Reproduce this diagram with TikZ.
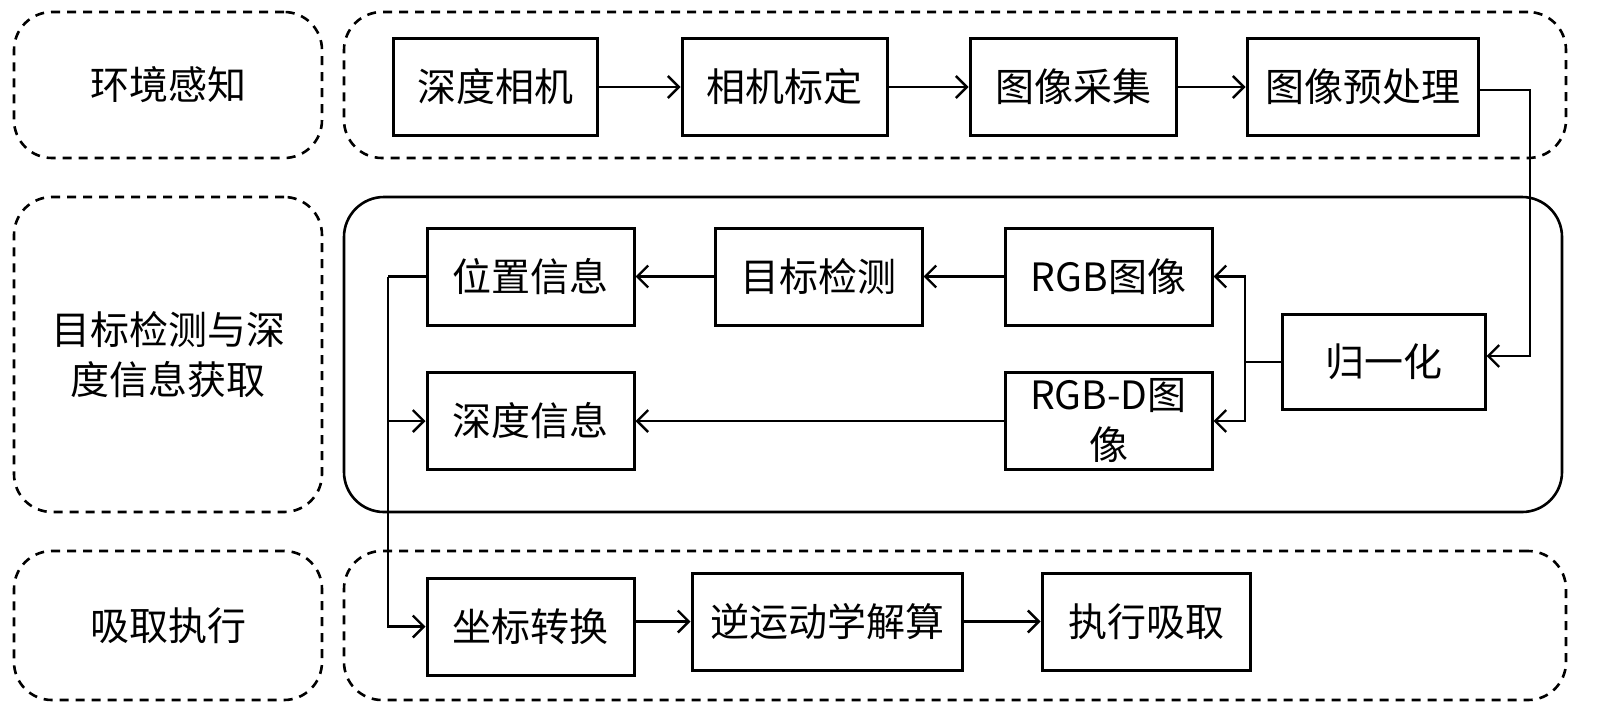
\documentclass[tikz,border=0pt]{standalone}
\usepackage{fontspec}
\newfontfamily\cjk{Noto Sans CJK SC}
\usetikzlibrary{arrows.meta}
\begin{document}
\begin{tikzpicture}[x=1pt,y=-1pt,
  every node/.style={font=\cjk\fontsize{39}{50}\selectfont, inner sep=0pt, align=center},
  procbox/.style={draw, line width=3pt, minimum height=97pt},
  groupbox/.style={draw, line width=2.6pt, dash pattern=on 9pt off 7pt, rounded corners=38pt},
  link/.style={line width=2.4pt, -{Straight Barb[length=11pt,width=22pt,line width=2.4pt]}},
  plain/.style={line width=2.4pt}
]
\useasboundingbox[fill=white] (0,0) rectangle (1600,724);

% group frames
\node[groupbox, minimum width=308pt, minimum height=146pt] (gl1) at (168,85) {环境感知};
\node[groupbox, minimum width=308pt, minimum height=315pt] (gl2) at (168,354.5) {目标检测与深\\度信息获取};
\node[groupbox, minimum width=308pt, minimum height=149pt] (gl3) at (168,625.5) {吸取执行};
\node[groupbox, minimum width=1222pt, minimum height=146pt] (gr1) at (955,85) {};
\node[draw, line width=2.6pt, rounded corners=40pt, minimum width=1218pt, minimum height=315pt] (gr2) at (953,354.5) {};
\node[groupbox, minimum width=1222pt, minimum height=149pt] (gr3) at (955,625.5) {};

% top row
\node[procbox, minimum width=204pt] (cam) at (495,87) {深度相机};
\node[procbox, minimum width=205pt] (calib) at (784.5,87) {相机标定};
\node[procbox, minimum width=206pt] (acq) at (1073,87) {图像采集};
\node[procbox, minimum width=231pt] (pre) at (1362.5,87) {图像预处理};

% middle
\node[procbox, minimum width=207pt] (pos) at (530.5,276.5) {位置信息};
\node[procbox, minimum width=207pt] (det) at (818.5,276.5) {目标检测};
\node[procbox, minimum width=207pt] (rgb) at (1108.5,276.5) {RGB图像};
\node[procbox, minimum width=207pt] (depth) at (530.5,421) {深度信息};
\node[procbox, minimum width=207pt] (rgbd) at (1108.5,421) {RGB-D图\\像};
\node[procbox, minimum width=203pt, minimum height=95pt] (norm) at (1383.5,362) {归一化};

% bottom
\node[procbox, minimum width=207pt] (coord) at (530.5,626.5) {坐标转换};
\node[procbox, minimum width=270pt] (ik) at (827,621.5) {逆运动学解算};
\node[procbox, minimum width=208pt] (exec) at (1146,621.5) {执行吸取};

% connectors top
\draw[link] (cam.east) -- (calib.west);
\draw[link] (calib.east) -- (acq.west);
\draw[link] (acq.east) -- (pre.west);
\coordinate (rt) at (1530,90);
\draw[link] (pre.east |- rt) -- (rt) |- ([yshift=6pt]norm.east);

% split from normalisation
\coordinate (sp) at (1245,362);
\draw[plain] (norm.west) -- (sp);
\draw[link] (sp) |- (rgb.east);
\draw[link] (sp) |- (rgbd.east);
\draw[link] (rgb.west) -- (det.east);
\draw[link] (det.west) -- (pos.east);
\draw[link] (rgbd.west) -- (depth.east);

% left vertical
\coordinate (lt) at (388,276.5);
\draw[plain] (pos.west) -- (lt);
\draw[link] (lt) |- (depth.west);
\draw[link] (lt) |- (coord.west);

% bottom row
\draw[link] (coord.east |- ik.west) -- (ik.west);
\draw[link] (ik.east) -- (exec.west);
\end{tikzpicture}
\end{document}
